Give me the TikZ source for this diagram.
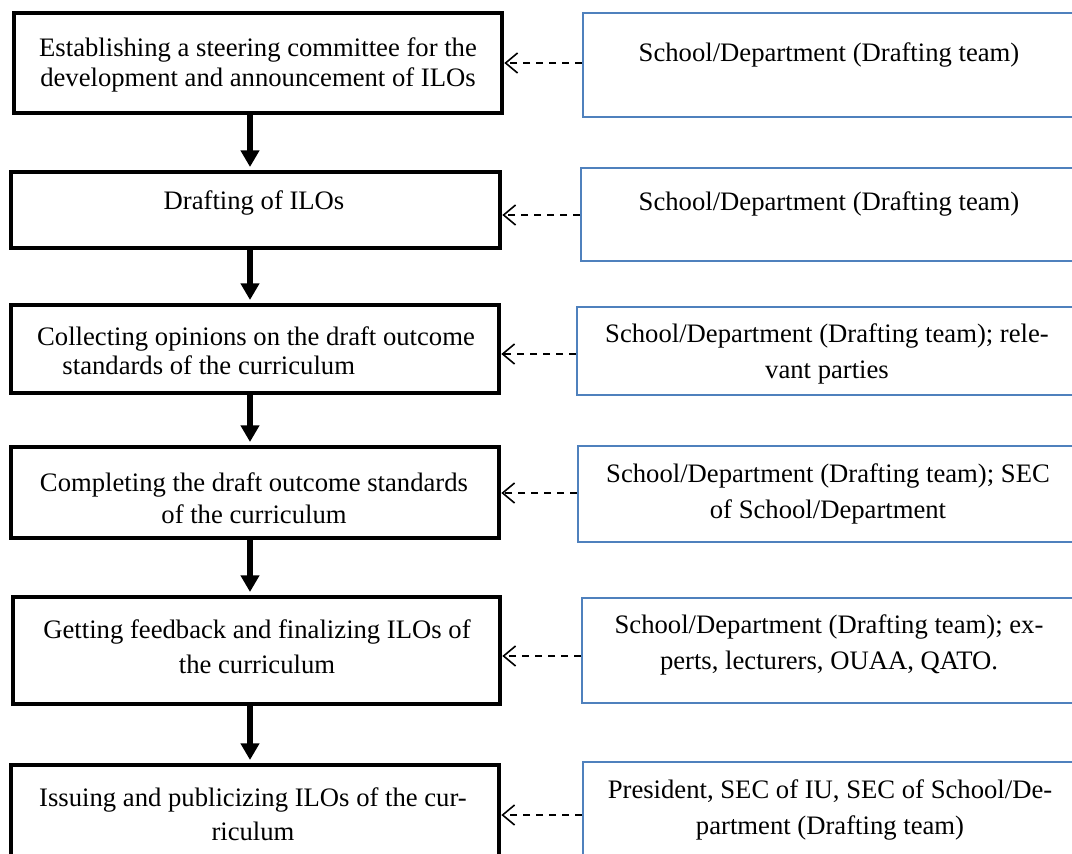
\documentclass[tikz,border=0pt]{standalone}
\usepackage{fontspec}
\setmainfont{Liberation Serif}
\usetikzlibrary{arrows.meta,fit}
\definecolor{boxblue}{RGB}{79,129,189}
\begin{document}
\begin{tikzpicture}[x=0.75pt,y=-0.75pt,
  lbox/.style={draw=black,line width=3.5pt,inner sep=0pt},
  rbox/.style={draw=boxblue,line width=1.3pt,inner sep=0pt},
  ltext/.style={align=center,font=\fontsize{20pt}{#1}\selectfont,inner sep=0pt},
  ltext/.default=24pt,
  rtext/.style={align=center,font=\fontsize{20pt}{27pt}\selectfont,inner sep=0pt},
  flow/.style={line width=4pt,-{Triangle[width=13.5pt,length=12.5pt]}},
  dep/.style={line width=1.25pt,dash pattern=on 5.25pt off 4.5pt,
    -{Straight Barb[length=9pt,width=15pt,line width=1.2pt]}}]
\useasboundingbox (0,0) rectangle (1072,854);
\clip (0,0) rectangle (1072,854);

% process steps (left column)
\node[lbox,fit={(14,13) (502,113)}] (s1) {};
\node[lbox,fit={(11,172) (500,248)}] (s2) {};
\node[lbox,fit={(11,305) (499,393)}] (s3) {};
\node[lbox,fit={(11,447) (499,538)}] (s4) {};
\node[lbox,fit={(13,597) (500,704)}] (s5) {};
\node[lbox,fit={(11,765) (499,880)}] (s6) {};

\node[ltext=23pt] (t1) at (258,65) {Establishing a steering committee for the\\development and announcement of ILOs};
\node[ltext] (t2) at (254,203) {Drafting of ILOs};
\node[ltext=22pt,align=left] (t3) at (256,351) {Collecting opinions on the draft outcome\\\hspace*{19pt}standards of the curriculum};
\node[ltext=24pt] (t4) at (254,498) {Completing the draft outcome standards\\of the curriculum};
\node[ltext=26pt] (t5) at (257,647) {Getting feedback and finalizing ILOs of\\the curriculum};
\node[ltext=25.5pt] (t6) at (253,814) {Issuing and publicizing ILOs of the cur-\\riculum};

% responsible units (right column)
\node[rbox,fit={(583,13) (1078,117)}] (r1) {};
\node[rbox,fit={(581,168) (1078,261)}] (r2) {};
\node[rbox,fit={(577,307) (1078,395)}] (r3) {};
\node[rbox,fit={(578,446) (1078,542)}] (r4) {};
\node[rbox,fit={(582,598) (1078,703)}] (r5) {};
\node[rbox,fit={(583,762) (1078,880)}] (r6) {};

\node[rtext] (u1) at (829,55) {School/Department (Drafting team)};
\node[rtext] (u2) at (829,204) {School/Department (Drafting team)};
\node[rtext] (u3) at (827,354) {School/Department (Drafting team); rele-\\vant parties};
\node[rtext] (u4) at (828,494) {School/Department (Drafting team); SEC\\of School/Department};
\node[rtext] (u5) at (829,645) {School/Department (Drafting team); ex-\\perts, lecturers, OUAA, QATO.};
\node[rtext] (u6) at (830,810) {President, SEC of IU, SEC of School/De-\\partment (Drafting team)};

% main flow
\coordinate (ax) at (250,0);
\draw[flow] (s1.south -| ax) -- ([yshift=2pt]s2.north -| ax);
\draw[flow] (s2.south -| ax) -- ([yshift=2pt]s3.north -| ax);
\draw[flow] (s3.south -| ax) -- ([yshift=2pt]s4.north -| ax);
\draw[flow] (s4.south -| ax) -- ([yshift=2pt]s5.north -| ax);
\draw[flow] (s5.south -| ax) -- ([yshift=2pt]s6.north -| ax);

% responsibility links
\draw[dep] (r1.west |- 0,63) -- (s1.east |- 0,63);
\draw[dep] (r2.west |- 0,215) -- (s2.east |- 0,215);
\draw[dep] (r3.west |- 0,354) -- (s3.east |- 0,354);
\draw[dep] (r4.west |- 0,493) -- (s4.east |- 0,493);
\draw[dep] (r5.west |- 0,656) -- (s5.east |- 0,656);
\draw[dep] (r6.west |- 0,815) -- (s6.east |- 0,815);
\end{tikzpicture}
\end{document}
